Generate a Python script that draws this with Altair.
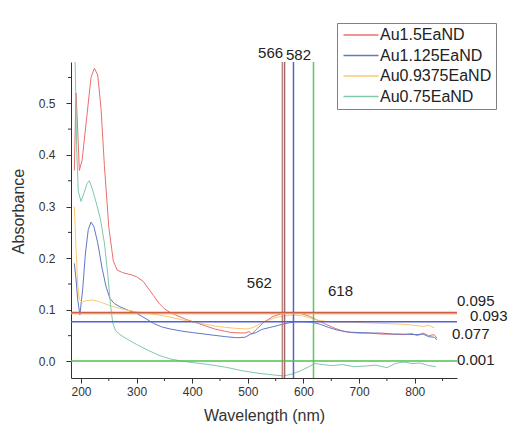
import altair as alt
import pandas as pd

FONT = "Liberation Sans"

series_names = ["Au1.5EaND", "Au1.125EaND", "Au0.9375EaND", "Au0.75EaND"]
series_colors = ["#e8706e", "#6078c8", "#f8c870", "#80c8a8"]

red_wl = [188, 191, 194, 197, 202, 210, 218, 224, 230, 236, 242, 250, 258, 265, 275, 290, 300, 312, 322, 330,
          340, 350, 360, 370, 390, 410, 440, 470, 495, 502, 507, 515, 530, 545, 565, 580, 595, 610, 625, 640,
          655, 670, 685, 700, 720, 740, 760, 780, 795, 805, 815, 825, 835, 840]
red_a = [0.37, 0.52, 0.45, 0.37, 0.39, 0.47, 0.55, 0.568, 0.555, 0.49, 0.38, 0.26, 0.195, 0.177, 0.172, 0.168,
         0.164, 0.155, 0.14, 0.128, 0.113, 0.102, 0.095, 0.09, 0.081, 0.074, 0.063, 0.056, 0.055, 0.058, 0.053,
         0.062, 0.077, 0.087, 0.094, 0.095, 0.093, 0.088, 0.08, 0.072, 0.065, 0.059, 0.056, 0.055, 0.055, 0.053,
         0.053, 0.052, 0.054, 0.05, 0.055, 0.05, 0.052, 0.045]

blue_wl = [188, 191, 194, 198, 203, 208, 213, 218, 223, 230, 238, 245, 252, 260, 270, 285, 300, 315, 330, 345,
           360, 380, 400, 430, 460, 480, 495, 505, 515, 525, 540, 555, 570, 585, 600, 615, 630, 645, 660, 680,
           700, 720, 740, 760, 780, 800, 815, 825, 835, 840]
blue_a = [0.19, 0.16, 0.12, 0.09, 0.14, 0.21, 0.255, 0.27, 0.262, 0.23, 0.18, 0.145, 0.122, 0.112, 0.106, 0.099,
          0.093, 0.084, 0.074, 0.067, 0.063, 0.059, 0.056, 0.052, 0.048, 0.046, 0.047, 0.053, 0.056, 0.062, 0.066,
          0.07, 0.074, 0.077, 0.077, 0.076, 0.072, 0.066, 0.061, 0.057, 0.056, 0.055, 0.055, 0.053, 0.053, 0.052,
          0.053, 0.048, 0.047, 0.042]

orange_wl = [188, 191, 194, 197, 202, 210, 220, 230, 240, 250, 262, 280, 300, 320, 340, 360, 380, 400, 420, 440,
             460, 480, 500, 510, 520, 535, 550, 565, 580, 595, 610, 625, 645, 665, 690, 710, 735, 760, 780, 800,
             815, 825, 835]
orange_a = [0.30, 0.22, 0.15, 0.12, 0.115, 0.118, 0.119, 0.117, 0.113, 0.109, 0.105, 0.1, 0.096, 0.093, 0.09,
            0.086, 0.081, 0.077, 0.073, 0.069, 0.066, 0.064, 0.063, 0.066, 0.072, 0.079, 0.085, 0.088, 0.09, 0.089,
            0.085, 0.08, 0.077, 0.076, 0.076, 0.075, 0.074, 0.073, 0.072, 0.07, 0.068, 0.07, 0.065]

green_wl = [188, 190, 192, 195, 200, 205, 211, 215, 220, 228, 235, 242, 248, 253, 257, 262, 270, 285, 300, 320,
            340, 360, 380, 400, 430, 460, 490, 520, 545, 565, 580, 595, 610, 620, 635, 650, 670, 690, 710, 730,
            750, 765, 780, 795, 810, 825, 838]
green_a = [0.65, 0.55, 0.42, 0.33, 0.31, 0.325, 0.345, 0.35, 0.335, 0.305, 0.275, 0.23, 0.17, 0.11, 0.075, 0.06,
           0.052, 0.042, 0.033, 0.022, 0.012, 0.005, 0.001, -0.002, -0.006, -0.011, -0.018, -0.023, -0.026,
           -0.028, -0.024, -0.018, -0.01, -0.004, -0.006, -0.008, -0.006, -0.01, -0.009, -0.007, -0.012, -0.004,
           -0.001, -0.004, -0.003, -0.008, -0.01]

# reference lines
vline_wl = [562, 566, 582, 618]
vline_colors = ["#b88878", "#a06a70", "#5a64c8", "#58c858"]
hline_a = [0.095, 0.093, 0.077, 0.001]
hline_colors = ["#c84848", "#f0a040", "#5060e0", "#50c050"]

x_ticks = [200, 300, 400, 500, 600, 700, 800]
x_minor = [250, 350, 450, 550, 650, 750, 850]
y_ticks = [0.0, 0.1, 0.2, 0.3, 0.4, 0.5]
y_minor = [0.05, 0.15, 0.25, 0.35, 0.45, 0.55]

rows = []
for name, wls, vals in [(series_names[0], red_wl, red_a), (series_names[1], blue_wl, blue_a),
                        (series_names[2], orange_wl, orange_a), (series_names[3], green_wl, green_a)]:
    for w, a in zip(wls, vals):
        rows.append({"series": name, "wl": w, "abs": a})
df = pd.DataFrame(rows)

W, H = 386, 316
xscale = alt.Scale(domain=[182, 876], nice=False, zero=False)
yscale = alt.Scale(domain=[-0.032, 0.58], nice=False, zero=False)

curves = alt.Chart(df).mark_line(strokeWidth=1, clip=True).encode(
    x=alt.X("wl:Q", scale=xscale, title="Wavelength (nm)",
            axis=alt.Axis(values=x_ticks, format="d", grid=False, tickSize=5, labelPadding=3,
                          titleY=37, titleBaseline="middle", titleFontSize=16, titleFontWeight="normal")),
    y=alt.Y("abs:Q", scale=yscale, title="Absorbance",
            axis=alt.Axis(values=y_ticks, format=".1f", grid=False, tickSize=5, labelPadding=11,
                          titleX=-53, titleY=149, titleAngle=-90, titleAlign="center",
                          titleBaseline="middle", titleFontSize=16, titleFontWeight="normal")),
    color=alt.Color("series:N", scale=alt.Scale(domain=series_names, range=series_colors),
                    legend=alt.Legend(title=None, orient="none", legendX=266, legendY=-39,
                                      symbolType="M-3.5,0H3.5", symbolSize=100, symbolStrokeWidth=1.5,
                                      symbolOffset=12, labelOffset=11, labelFontSize=16, labelFont=FONT,
                                      rowPadding=4.5, padding=4, strokeColor="#808080", fillColor="white",
                                      labelColor="#222")),
    detail="series:N",
    order="wl:Q",
)

layers = [curves]

for wl, col in zip(vline_wl, vline_colors):
    layers.append(alt.Chart().mark_rule(color=col, strokeWidth=1.5).encode(x=alt.datum(wl, scale=xscale)))
for a, col in zip(hline_a, hline_colors):
    layers.append(alt.Chart().mark_rule(color=col, strokeWidth=1.5).encode(y=alt.datum(a, scale=yscale)))

# minor ticks
layers.append(alt.Chart(pd.DataFrame({"m": x_minor})).mark_rule(color="#333", strokeWidth=1).encode(
    x=alt.X("m:Q", scale=xscale), y=alt.value(H), y2=alt.value(H + 3)))
layers.append(alt.Chart(pd.DataFrame({"m": y_minor})).mark_rule(color="#333", strokeWidth=1).encode(
    y=alt.Y("m:Q", scale=yscale), x=alt.value(0), x2=alt.value(-3)))

# annotations
def vlabel(wl, dx, ypix):
    return alt.Chart().mark_text(fontSize=15, font=FONT, color="#222", dx=dx, baseline="middle",
                                 align="center").encode(
        x=alt.datum(wl, scale=xscale), y=alt.value(ypix), text=alt.value(str(wl)))

def hlabel(a, xpix, dy, text):
    return alt.Chart().mark_text(fontSize=15, font=FONT, color="#222", dy=dy, baseline="middle",
                                 align="left").encode(
        x=alt.value(xpix), y=alt.datum(a, scale=yscale), text=alt.value(text))

layers += [
    vlabel(566, -14, -9),
    vlabel(582, 5, -7),
    vlabel(562, -23, 221),
    vlabel(618, 27, 229),
    hlabel(0.095, 386, -11, "0.095"),
    hlabel(0.093, 399, 3, "0.093"),
    hlabel(0.077, 381, 12, "0.077"),
    hlabel(0.001, 386, -1, "0.001"),
]

chart = alt.layer(*layers).properties(
    width=W, height=H,
    autosize=alt.AutoSizeParams(type="none"),
    padding={"left": 63, "top": 54, "right": 62, "bottom": 48},
).configure_view(stroke=None).configure_axis(
    labelFont=FONT, titleFont=FONT, labelFontSize=12, labelColor="#333", titleColor="#333",
    domainColor="#333", tickColor="#333", domainWidth=1,
)

chart.save("out.html", embed_options={"renderer": "svg", "actions": False})
